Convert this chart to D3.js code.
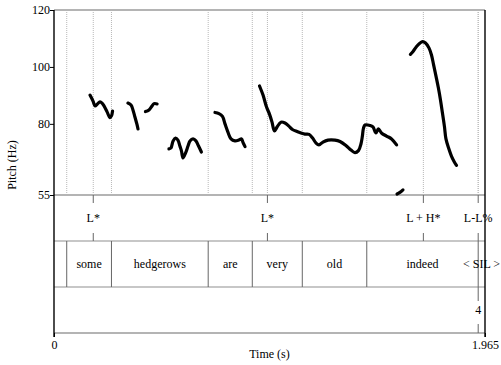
<!DOCTYPE html>
<html><head><meta charset="utf-8">
<script src="https://cdn.jsdelivr.net/npm/d3@7"></script>
<style>
body{margin:0;background:#fff}
svg{display:block}
text{font-family:"Liberation Serif","Times New Roman",serif;font-size:12px;fill:#000}
</style>
</head><body>
<svg id="c" width="501" height="365"></svg>
<script>
// ---- data ----
const pitchTicks = [55, 80, 100, 120];
const timeTicks = [0, 1.965];
const wordBounds = [0, 0.058, 0.262, 0.703, 0.904, 1.132, 1.426, 1.934, 1.965];
const words = ["", "some", "hedgerows", "are", "very", "old", "indeed", "< SIL >"];
const toneTimes = [0.179, 0.973, 1.684, 1.934];
const toneLabels = ["L*", "L*", "L + H*", "L-L%"];
const breakTimes = [1.934];
const breakLabels = ["4"];

// pitch contour segments: [time (s), pitch (Hz)]
const seg1 = [[0.164,90.1],[0.178,88.0],[0.187,86.3],[0.198,87.0],[0.210,87.7],[0.219,87.3],[0.228,86.3],[0.242,84.2],[0.255,82.2],[0.262,82.8],[0.267,84.5]];
const seg2 = [[0.337,87.3],[0.351,86.6],[0.360,84.9],[0.369,82.4],[0.378,79.9],[0.383,78.2]];
const seg3 = [[0.417,84.3],[0.433,84.9],[0.447,86.3],[0.456,87.1],[0.470,87.0]];
const seg4 = [[0.524,71.2],[0.533,71.5],[0.543,74.0],[0.554,75.0],[0.565,74.3],[0.574,72.2],[0.581,70.5],[0.588,68.0],[0.600,69.8],[0.611,72.2],[0.620,74.0],[0.634,74.7],[0.647,74.0],[0.659,72.2],[0.672,70.1]];
const seg5 = [[0.734,84.0],[0.752,83.6],[0.768,82.6],[0.780,79.9],[0.793,77.1],[0.807,74.7],[0.825,74.0],[0.843,74.3],[0.855,74.7],[0.862,73.4],[0.871,72.0]];
const seg6 = [[0.937,93.3],[0.953,90.1],[0.969,85.9],[0.982,83.5],[0.994,80.6],[1.005,77.5],[1.017,78.9],[1.035,80.6],[1.053,80.3],[1.071,79.2],[1.087,78.0],[1.108,77.3],[1.126,76.8],[1.144,76.4],[1.163,76.3],[1.179,75.0],[1.194,73.3],[1.208,72.6],[1.226,73.6],[1.249,74.3],[1.281,74.3],[1.304,73.8],[1.331,72.4],[1.354,70.8],[1.372,69.9],[1.388,70.6],[1.400,73.1],[1.406,75.7],[1.411,78.5],[1.418,79.6],[1.441,79.4],[1.454,78.9],[1.468,76.8],[1.479,78.2],[1.493,76.8],[1.516,75.7],[1.539,74.7],[1.562,72.6]];
const seg7 = [[1.564,55.35],[1.577,55.9],[1.591,56.8]];
const seg8 = [[1.625,104.4],[1.637,105.4],[1.653,107.2],[1.669,108.4],[1.680,108.9],[1.694,108.4],[1.710,106.6],[1.721,104.2],[1.730,101.0],[1.742,96.6],[1.753,92.4],[1.762,88.4],[1.771,83.8],[1.780,79.1],[1.787,74.7],[1.799,71.5],[1.812,68.7],[1.824,66.8],[1.835,65.4]];
const segments = [seg1, seg2, seg3, seg4, seg5, seg6, seg7, seg8];

// ---- layout ----
const L = 54, R = 485, T = 10, PB = 195;
const toneTop = 195, toneBot = 241, wordBot = 287, breakBot = 333;

const svg = d3.select("#c");
const x = d3.scaleLinear().domain([0, 1.965]).range([L, R]);
const y = d3.scaleLinear().domain([55, 120]).range([PB, T]);

// vertical dotted guide lines in pitch area
const guides = wordBounds.slice(1, -1).concat(toneTimes);
svg.append("g").selectAll("line").data(guides).join("line")
  .attr("x1", d => x(d)).attr("x2", d => x(d))
  .attr("y1", T).attr("y2", PB)
  .attr("stroke", "#b8b8b8").attr("stroke-width", 1).attr("stroke-dasharray", "1,1");

// horizontal gray lines
svg.append("g").selectAll("line").data([T, PB, wordBot - 46, wordBot, breakBot]).join("line")
  .attr("x1", L).attr("x2", R).attr("y1", d => d).attr("y2", d => d)
  .attr("stroke", "#b4b4b4").attr("stroke-width", (d, i) => (i === 0 || i === 1 || i === 4) ? 2 : 1.5);

// pitch contour
const line = d3.line().x(d => x(d[0])).y(d => y(d[1])).curve(d3.curveCatmullRom);
svg.append("g").selectAll("path").data(segments).join("path")
  .attr("d", line).attr("fill", "none").attr("stroke", "#000")
  .attr("stroke-width", 3.2).attr("stroke-linecap", "round").attr("stroke-linejoin", "round");

// tone tier
const tg = svg.append("g");
tg.selectAll("line.t1").data(toneTimes).join("line").attr("class", "t1")
  .attr("x1", d => x(d)).attr("x2", d => x(d)).attr("y1", toneTop).attr("y2", toneTop + 8)
  .attr("stroke", "#666").attr("stroke-width", 1);
tg.selectAll("line.t2").data(toneTimes).join("line").attr("class", "t2")
  .attr("x1", d => x(d)).attr("x2", d => x(d)).attr("y1", toneBot - 8).attr("y2", toneBot)
  .attr("stroke", "#666").attr("stroke-width", 1);
tg.selectAll("text").data(toneTimes).join("text")
  .attr("x", d => x(d)).attr("y", (toneTop + toneBot) / 2).attr("dy", "0.35em")
  .attr("text-anchor", "middle").text((d, i) => toneLabels[i]);

// word tier
const wg = svg.append("g");
wg.selectAll("line").data(wordBounds.slice(1, -1)).join("line")
  .attr("x1", d => x(d)).attr("x2", d => x(d)).attr("y1", toneBot).attr("y2", wordBot)
  .attr("stroke", "#666").attr("stroke-width", 1);
wg.selectAll("text").data(words).join("text")
  .attr("x", (d, i) => (x(wordBounds[i]) + x(wordBounds[i + 1])) / 2)
  .attr("y", (toneBot + wordBot) / 2).attr("dy", "0.35em")
  .attr("text-anchor", "middle").text(d => d);

// break tier
const bg = svg.append("g");
bg.selectAll("line.b1").data(breakTimes).join("line").attr("class", "b1")
  .attr("x1", d => x(d)).attr("x2", d => x(d)).attr("y1", wordBot).attr("y2", wordBot + 14)
  .attr("stroke", "#666").attr("stroke-width", 1);
bg.selectAll("line.b2").data(breakTimes).join("line").attr("class", "b2")
  .attr("x1", d => x(d)).attr("x2", d => x(d)).attr("y1", breakBot - 9).attr("y2", breakBot)
  .attr("stroke", "#666").attr("stroke-width", 1);
bg.selectAll("text").data(breakTimes).join("text")
  .attr("x", d => x(d)).attr("y", (wordBot + breakBot) / 2).attr("dy", "0.35em")
  .attr("text-anchor", "middle").text((d, i) => breakLabels[i]);

// axes frame lines
svg.append("line").attr("x1", L).attr("x2", L).attr("y1", T).attr("y2", breakBot + 4)
  .attr("stroke", "#000").attr("stroke-width", 1.4);
svg.append("line").attr("x1", R).attr("x2", R).attr("y1", T).attr("y2", breakBot + 4)
  .attr("stroke", "#000").attr("stroke-width", 1.4);

// y axis
const ya = svg.append("g").attr("transform", `translate(${L},0)`)
  .call(d3.axisLeft(y).tickValues(pitchTicks).tickSize(4).tickPadding(0).tickFormat(d3.format("d")));
ya.select(".domain").remove();
ya.selectAll("text").style("font-family", '"Liberation Serif",serif').style("font-size", "12px");
ya.selectAll(".tick line").attr("stroke", "#000");

// x axis
const xa = svg.append("g").attr("transform", `translate(0,${breakBot})`)
  .call(d3.axisBottom(x).tickValues(timeTicks).tickSize(4).tickPadding(3).tickFormat(d => d === 0 ? "0" : "1.965"));
xa.select(".domain").remove();
xa.selectAll("text").style("font-family", '"Liberation Serif",serif').style("font-size", "12px");
xa.selectAll(".tick line").attr("stroke", "#000");

// axis titles
svg.append("text").attr("x", (L + R) / 2).attr("y", 358).attr("text-anchor", "middle").text("Time (s)");
svg.append("text").attr("transform", "translate(16,165) rotate(-90)").attr("text-anchor", "middle").text("Pitch (Hz)");
</script>
</body></html>
